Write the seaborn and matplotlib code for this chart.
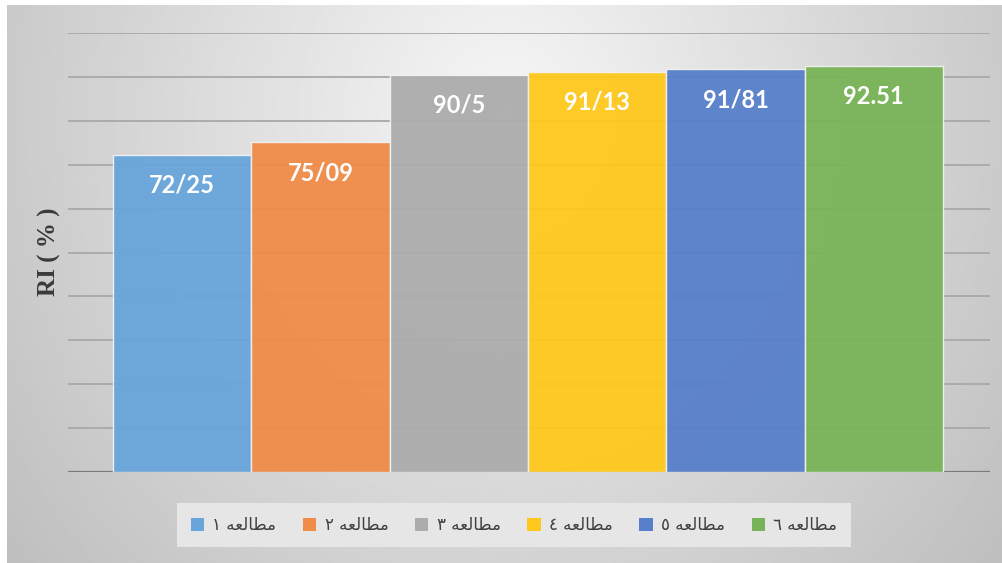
""" RI (%) for six studies, bar chart """

import numpy as np
import pandas as pd
import matplotlib
matplotlib.use('Agg')
import matplotlib.pyplot as plt
import seaborn as sns
from matplotlib.patches import Patch

studies = ['مطالعه ١', 'مطالعه ٢', 'مطالعه ٣', 'مطالعه ٤', 'مطالعه ٥', 'مطالعه ٦']
ri_values = [72.25, 75.09, 90.5, 91.13, 91.81, 92.51]
value_text = ['72/25', '75/09', '90/5', '91/13', '91/81', '92.51']
bar_colors = ['#68a5da', '#f08b48', '#acacac', '#ffc81c', '#577fcb', '#78b457']

# matplotlib has no arabic shaping, so pick presentation forms by hand
# (isolated, final, initial, medial)
FORMS = {
    'م': ('\uFEE1', '\uFEE2', '\uFEE3', '\uFEE4'),
    'ط': ('\uFEC1', '\uFEC2', '\uFEC3', '\uFEC4'),
    'ا': ('\uFE8D', '\uFE8E', None, None),
    'ل': ('\uFEDD', '\uFEDE', '\uFEDF', '\uFEE0'),
    'ع': ('\uFEC9', '\uFECA', '\uFECB', '\uFECC'),
    'ه': ('\uFEE9', '\uFEEA', '\uFEEB', '\uFEEC'),
}


def shape_word(word):
    out = []
    for i, c in enumerate(word):
        if c not in FORMS:
            out.append(c)
            continue
        prev = word[i - 1] if i > 0 else None
        nxt = word[i + 1] if i < len(word) - 1 else None
        join_prev = prev in FORMS and FORMS[prev][2] is not None
        join_next = nxt in FORMS and FORMS[c][2] is not None
        if join_prev and join_next:
            out.append(FORMS[c][3])
        elif join_prev:
            out.append(FORMS[c][1])
        elif join_next:
            out.append(FORMS[c][2])
        else:
            out.append(FORMS[c][0])
    return ''.join(out[::-1])


def rtl(text):
    return ' '.join(shape_word(w) for w in text.split(' ')[::-1])


sns.set_theme(style='white')

W, H = 1003, 563
fig = plt.figure(figsize=(W / 100, H / 100), dpi=100)
fig.patch.set_facecolor('white')

# grey radial background of the chart area
bg = fig.add_axes([7 / W, 0, 996 / W, 558 / H], zorder=-5)
xx, yy = np.meshgrid(np.linspace(0, 1, 400), np.linspace(0, 1, 250))
r = np.sqrt(((xx - 0.5) / 0.5) ** 2 + ((yy - 0.2) / 1.0) ** 2)
shade = np.clip(0.965 - 0.17 * r, 0, 1)
bg.imshow(shade, cmap='gray', vmin=0, vmax=1, aspect='auto',
          interpolation='bilinear')
bg.axis('off')

ax = fig.add_axes([68 / W, 1 - 472 / H, 922 / W, 439 / H])
ax.patch.set_alpha(0)

df = pd.DataFrame({'study': studies, 'ri': ri_values})
sns.barplot(data=df, x='study', y='ri', hue='study', palette=bar_colors,
            width=1, alpha=0.95, saturation=1, edgecolor='#f2f2f2',
            linewidth=1, legend=False, ax=ax, zorder=2)

ax.set_ylim(0, 100)
ax.set_xlim(-0.825, 5.84)
ax.set_yticks(range(0, 101, 10))
ax.set_yticklabels([])
ax.set_xticks([])
ax.set_xlabel('')
ax.set_ylabel('')
ax.yaxis.grid(True, color='#a8a8a8', lw=1.3)
ax.set_axisbelow(True)
ax.axhline(0, color='#7a7a7a', lw=1.6, zorder=1)
sns.despine(ax=ax, left=True, bottom=True)

for i, (v, t) in enumerate(zip(ri_values, value_text)):
    ax.annotate(t, (i, v), xytext=(0, -22), textcoords='offset points',
                ha='center', va='center', color='white', fontsize=17,
                fontweight='bold', family='Lato', zorder=5)

fig.text(49 / W, 1 - 252 / H, 'RI ( % )', rotation=90, ha='center',
         va='center', fontsize=18, fontweight='bold',
         family='Liberation Serif', color='#3a3a3a')

handles = [Patch(facecolor=c, edgecolor='none') for c in bar_colors]
leg = fig.legend(handles, [rtl(s) for s in studies], loc='center',
                 bbox_to_anchor=(514 / W, 1 - 525 / H), ncol=6,
                 frameon=True, facecolor='#e6e6e6', edgecolor='none',
                 framealpha=1, fancybox=False,
                 prop={'family': 'DejaVu Sans', 'size': 12},
                 handlelength=0.8, handleheight=0.8, handletextpad=0.5,
                 columnspacing=1.6, borderpad=0.8)
for txt in leg.get_texts():
    txt.set_color('#404040')

fig.savefig('out.png', dpi=100)
